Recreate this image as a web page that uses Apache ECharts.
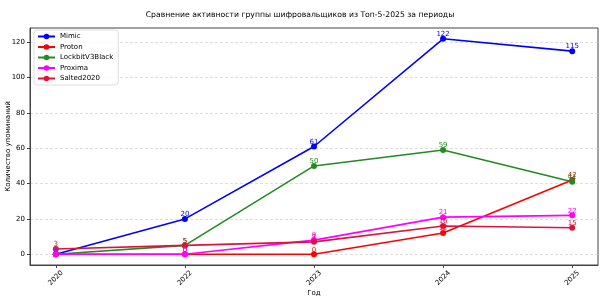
<!DOCTYPE html>
<html><head><meta charset="utf-8">
<script src="https://cdn.jsdelivr.net/npm/echarts@6/dist/echarts.min.js"></script>
<style>html,body{margin:0;padding:0;background:#fff}#c{width:600px;height:302px}</style>
</head><body><div id="c"></div>
<script>
const years = ['2020', '2022', '2023', '2024', '2025'];
const mimic = [0, 20, 61, 122, 115];
const proton = [0, 0, 0, 12, 42];
const lockbit = [0, 5, 50, 59, 41];
const proxima = [0, 0, 8, 21, 22];
const salted = [3, 5, 7, 16, 15];
const yTicks = [0, 20, 40, 60, 80, 100, 120];

const seriesDefs = [
  ['Mimic', mimic, '#0000ff'],
  ['Proton', proton, '#ff0000'],
  ['LockbitV3Black', lockbit, '#228b22'],
  ['Proxima', proxima, '#ff00ff'],
  ['Salted2020', salted, '#dc143c']
];
const font = 'DejaVu Sans';
const fs = 7;
const chart = echarts.init(document.getElementById('c'), null, {renderer: 'canvas'});
chart.setOption({
  animation: false,
  backgroundColor: '#fff',
  textStyle: {fontFamily: font},
  title: {text: 'Сравнение активности группы шифровальщиков из Топ-5-2025 за периоды', left: 'center', top: 6,
    textStyle: {fontFamily: font, fontSize: 7.7, fontWeight: 'normal', color: '#000'}},
  grid: {left: 30, right: 2, top: 28, bottom: 37, show: true, borderColor: '#444', borderWidth: 1,
    containLabel: false, outerBoundsMode: 'none'},
  legend: {orient: 'vertical', left: 34, top: 30, itemGap: 3.5, itemWidth: 17, itemHeight: 7,
    backgroundColor: 'rgba(255,255,255,0.8)', borderColor: '#ddd', borderWidth: 1, borderRadius: 3, padding: [3, 5, 3, 3],
    textStyle: {fontFamily: font, fontSize: fs, color: '#000'},
    data: seriesDefs.map(s => s[0])},
  xAxis: {type: 'value', min: -0.2, max: 4.2,
    name: 'Год', nameLocation: 'middle', nameGap: 25, nameMoveOverlap: false,
    nameTextStyle: {fontFamily: font, fontSize: fs, color: '#000'},
    axisLine: {show: true, onZero: false, lineStyle: {color: '#444'}},
    axisTick: {show: true, customValues: [0, 1, 2, 3, 4], length: 3, lineStyle: {color: '#444'}},
    axisLabel: {customValues: [0, 1, 2, 3, 4], formatter: v => years[Math.round(v)], rotate: 45,
      align: 'center', verticalAlign: 'middle', margin: 13, fontFamily: font, fontSize: fs, color: '#000'},
    splitLine: {show: false}},
  yAxis: {type: 'value', min: -6.1, max: 128.1,
    name: 'Количество упоминаний', nameLocation: 'middle', nameGap: 18, nameMoveOverlap: false,
    nameTextStyle: {fontFamily: font, fontSize: fs, color: '#000'},
    axisLine: {show: true, onZero: false, lineStyle: {color: '#444'}},
    axisTick: {show: true, customValues: yTicks, length: 3, lineStyle: {color: '#444'}},
    axisLabel: {customValues: yTicks, margin: 5, fontFamily: font, fontSize: fs, color: '#000'},
    splitLine: {show: true, lineStyle: {color: '#d0d0d0', type: [3, 2], width: 0.7}}},
  series: seriesDefs.map(([name, vals, color]) => ({
    name, type: 'line', data: vals.map((v, i) => [i, v]),
    symbol: 'circle', symbolSize: 6,
    lineStyle: {width: 1.6, color}, itemStyle: {color},
    label: {show: true, position: 'top', distance: -2, fontFamily: font, fontSize: fs, color, formatter: p => p.value[1]}
  }))
});
</script></body></html>
